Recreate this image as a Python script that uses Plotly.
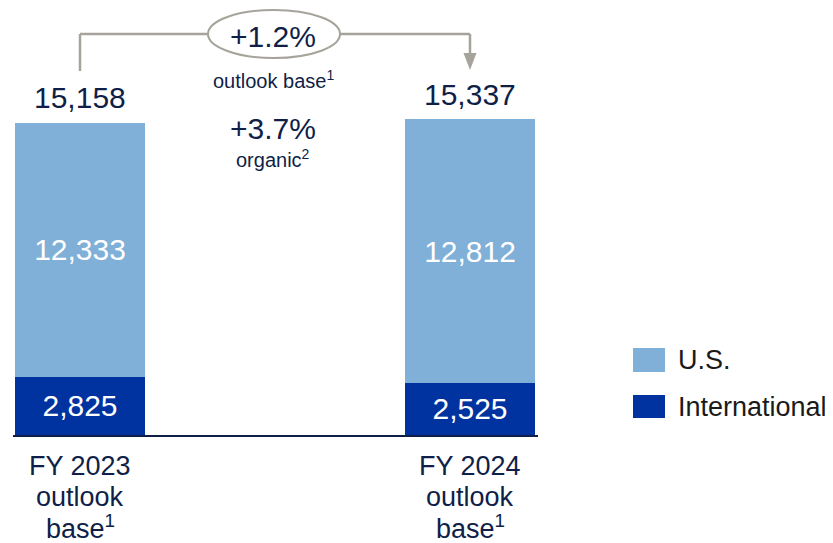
import plotly.graph_objects as go

# ---- data ----
cat_year = ["FY 2023", "FY 2024"]
cat_line2 = ["outlook", "outlook"]
cat_line3 = ["base<sup>1</sup>", "base<sup>1</sup>"]
international = [2825, 2525]
us = [12333, 12812]
totals = [15158, 15337]
growth_outlook = "+1.2%"
growth_organic = "+3.7%"

# ---- layout geometry (page pixels; the page body adds an 8px offset) ----
OFF = 8
W, H = 833 - OFF, 543 - OFF
PLOT_L, PLOT_R, PLOT_T, PLOT_B = 13, 538, 8, 435   # page coords
ML = PLOT_L - OFF
MR = W - (PLOT_R - OFF)
MT = PLOT_T - OFF
MB = H - (PLOT_B - OFF)
PW, PH = W - ML - MR, H - MT - MB
PX_PER_UNIT_X = 390.0
X0 = -(80 - PLOT_L) / PX_PER_UNIT_X
X1 = X0 + PW / PX_PER_UNIT_X
PX_PER_UNIT_Y = 0.0206
YMAX = PH / PX_PER_UNIT_Y

def ydata(py):
    return (PLOT_B - py) / PX_PER_UNIT_Y

def xdata(px):
    return (px - PLOT_L) / PX_PER_UNIT_X + X0

def xpaper(px):
    return (px - PLOT_L) / PW

def ypaper(py):
    return (PLOT_B - py) / PH

NAVY = "#0F1F48"
LIGHT = "#80B0D8"
DARK = "#0033A0"
GREY = "#A6A39B"
FONT = "Arial, Liberation Sans, sans-serif"

xs = [0, 1]
fig = go.Figure()
fig.add_trace(go.Bar(x=xs, y=international, name="International", marker_color=DARK,
                     width=1/3, text=[f"{v:,}" for v in international],
                     textposition="inside", insidetextanchor="middle",
                     textfont=dict(size=30, color="white", family=FONT),
                     marker_line_width=0, showlegend=False))
fig.add_trace(go.Bar(x=xs, y=us, name="U.S.", marker_color=LIGHT,
                     width=1/3, text=[f"{v:,}" for v in us],
                     textposition="inside", insidetextanchor="middle",
                     textfont=dict(size=30, color="white", family=FONT),
                     marker_line_width=0, showlegend=False))

annotations = []
for x, t in zip(xs, totals):
    annotations.append(dict(x=x, y=t, xref="x", yref="y", text=f"{t:,}", showarrow=False,
                            yanchor="middle", yshift=25,
                            font=dict(size=30, color=NAVY, family=FONT)))

# category labels (three lines each, tight PowerPoint-like spacing)
for x, l1, l2, l3 in zip(xs, cat_year, cat_line2, cat_line3):
    for txt, py in ((l1, 466), (l2, 497), (l3, 527)):
        annotations.append(dict(x=x, y=ypaper(py), xref="x", yref="paper", text=txt,
                                showarrow=False, yanchor="middle",
                                font=dict(size=27, color=NAVY, family=FONT)))

cx = xpaper(273)
annotations += [
    dict(x=cx, y=ypaper(37), xref="paper", yref="paper", text=growth_outlook, showarrow=False,
         yanchor="middle", font=dict(size=30, color=NAVY, family=FONT)),
    dict(x=cx, y=ypaper(80), xref="paper", yref="paper", text="outlook base<sup>1</sup>", showarrow=False,
         yanchor="middle", font=dict(size=20, color=NAVY, family=FONT)),
    dict(x=cx, y=ypaper(129), xref="paper", yref="paper", text=growth_organic, showarrow=False,
         yanchor="middle", font=dict(size=30, color=NAVY, family=FONT)),
    dict(x=cx, y=ypaper(159), xref="paper", yref="paper", text="organic<sup>2</sup>", showarrow=False,
         yanchor="middle", font=dict(size=20, color=NAVY, family=FONT)),
]

# legend (manual, large swatches)
legend_items = [("U.S.", LIGHT, 348, 372), ("International", DARK, 395, 418)]
shapes = []
for label, col, top, bot in legend_items:
    shapes.append(dict(type="rect", xref="paper", yref="paper",
                       x0=xpaper(633), x1=xpaper(665), y0=ypaper(bot), y1=ypaper(top),
                       fillcolor=col, line_width=0))
    annotations.append(dict(x=xpaper(676), y=ypaper((top + bot) / 2), xref="paper", yref="paper",
                            text=label, showarrow=False, xanchor="left", yanchor="middle",
                            font=dict(size=27, color="#1A1A1A", family=FONT)))

# connector with ellipse and arrow
y_top_line = ydata(34)
ex0, ex1 = xdata(208), xdata(340)
line_style = dict(color=GREY, width=2.5)
shapes += [
    dict(type="line", xref="x", yref="y", x0=0, x1=0, y0=ydata(71), y1=y_top_line, line=line_style),
    dict(type="line", xref="x", yref="y", x0=0, x1=ex0, y0=y_top_line, y1=y_top_line, line=line_style),
    dict(type="line", xref="x", yref="y", x0=ex1, x1=1, y0=y_top_line, y1=y_top_line, line=line_style),
    dict(type="line", xref="x", yref="y", x0=1, x1=1, y0=y_top_line, y1=ydata(54), line=line_style),
    dict(type="circle", xref="x", yref="y", x0=ex0, x1=ex1, y0=ydata(58), y1=ydata(10),
         line=dict(color=GREY, width=2), fillcolor="white"),
]
hw = 6.5 / PX_PER_UNIT_X
shapes.append(dict(type="path", xref="x", yref="y",
                   path=f"M {1-hw},{ydata(53)} L {1+hw},{ydata(53)} L 1,{ydata(70)} Z",
                   fillcolor=GREY, line_width=0))

fig.update_layout(
    barmode="stack",
    width=W, height=H,
    margin=dict(l=ML, r=MR, t=MT, b=MB, autoexpand=False),
    paper_bgcolor="white", plot_bgcolor="white",
    xaxis=dict(range=[X0, X1], tickvals=xs, ticktext=["", ""], showgrid=False, zeroline=False,
               showline=True, linecolor=NAVY, linewidth=2, ticks="", fixedrange=True),
    yaxis=dict(range=[0, YMAX], visible=False, showgrid=False, zeroline=False, fixedrange=True),
    shapes=shapes,
    annotations=annotations,
    uniformtext=dict(mode=False),
)

fig.write_html("out.html")
